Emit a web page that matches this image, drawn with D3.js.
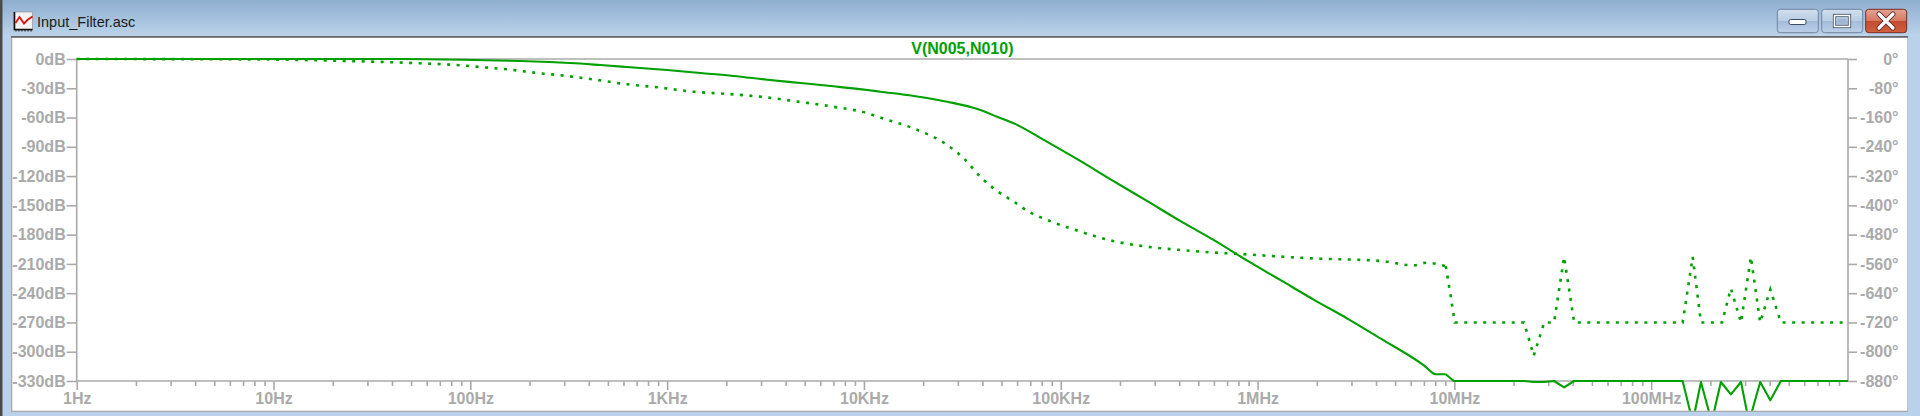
<!DOCTYPE html>
<html><head><meta charset="utf-8">
<script src="https://cdn.jsdelivr.net/npm/d3@7"></script>
<style>
html,body{margin:0;padding:0;background:#fff;overflow:hidden;}
svg{display:block;}
</style></head>
<body>
<svg id="c" width="1920" height="416"></svg>
<script>
// ---- data ----
const windowTitle = "Input_Filter.asc";
const traceName = "V(N005,N010)";
const magFreq = [1,44,91,180,252,322,458,651,1000,1480,2170,3230,4760,7000,10400,12110,17920,26480,39080,47540,57770,85390,126200,186400,275400,406400,600100,887000,1.31e6,1.936e6,2.86e6,4.23e6,7.0e6,8.05e6,9.04e6,9.94e6,2.26e7,2.53e7,2.86e7,3.21e7,3.61e7,4.06e7,1.445e8,1.625e8,1.79e8,2.03e8,2.26e8,2.54e8,2.86e8,3.14e8,3.58e8,4.03e8,4.56e8,1e9];
const magDb = [0,0,-0.7,-2.1,-3.1,-4.1,-6.2,-8.5,-11.3,-14.4,-17.4,-21.2,-24.6,-28.0,-31.8,-33.5,-37.9,-43.8,-52.3,-59.2,-66.0,-84.9,-104.7,-125.4,-145.7,-166.2,-185.7,-206.7,-226.7,-246.8,-266.0,-286.6,-313.9,-323.1,-323.1,-330,-330,-331,-331,-330,-336.5,-330,-330,-372,-331,-372,-331,-343.7,-331,-372,-331,-349.8,-330,-330];
const phaseFreq = [1,7.6,21,39,55.6,88.8,112,154,219,311,442,628,892,1360,2170,3080,4390,7000,10400,12110,17920,26480,32200,39080,47540,57770,70200,85390,126200,186400,275400,406400,600100,887000,1.31e6,1.936e6,4.23e6,6.22e6,7.16e6,9.04e6,9.15e6,9.59e6,1.005e7,2.26e7,2.53e7,2.86e7,3.21e7,3.61e7,4.06e7,1.445e8,1.625e8,1.79e8,2.29e8,2.54e8,2.86e8,3.21e8,3.58e8,4.03e8,4.56e8,1e9];
const phaseDeg = [0,-1,-4.7,-8.8,-11.8,-17.2,-21.9,-28.2,-38.3,-46.5,-57.4,-69.2,-77.4,-89.4,-96.6,-103.9,-114.9,-130.5,-148,-160,-190,-235,-272,-322,-361,-390,-420,-440,-472,-498,-513,-522,-529,-534,-540,-545,-552,-564,-557,-566,-582,-650,-720,-720,-811,-720,-720,-541,-720,-720,-541,-720,-720,-627,-720,-541,-720,-630,-720,-720];
const xTickValues = [1,10,100,1e3,1e4,1e5,1e6,1e7,1e8];
const xTickLabels = ["1Hz","10Hz","100Hz","1KHz","10KHz","100KHz","1MHz","10MHz","100MHz"];
const dbTicks = [0,-30,-60,-90,-120,-150,-180,-210,-240,-270,-300,-330];
const degTicks = [0,-80,-160,-240,-320,-400,-480,-560,-640,-720,-800,-880];

// ---- layout ----
const svg = d3.select("#c");
const L = 76.7, R = 1848, T = 59, B = 381;
const green = "#00a000", grey = "#aaaaaa";
const x = d3.scaleLog().domain([1,1e9]).range([L,R]);
const yMag = d3.scaleLinear().domain([0,-330]).range([T,B]);
const yPh = d3.scaleLinear().domain([0,-880]).range([T,B]);

// ---- window chrome ----
const defs = svg.append("defs");
const tg = defs.append("linearGradient").attr("id","tb").attr("x1",0).attr("y1",0).attr("x2",0).attr("y2",1);
tg.append("stop").attr("offset","0%").attr("stop-color","#8eaecf");
tg.append("stop").attr("offset","100%").attr("stop-color","#bcd4eb");
svg.append("rect").attr("width",1920).attr("height",416).attr("fill","#b9d1ea");
svg.append("rect").attr("width",1920).attr("height",37).attr("fill","url(#tb)");
svg.append("rect").attr("x",0).attr("y",0).attr("width",2.5).attr("height",416).attr("fill","#4a4a4a");
svg.append("rect").attr("x",11).attr("y",36).attr("width",1897).attr("height",376).attr("fill","#a9a9a9");
svg.append("rect").attr("x",12.3).attr("y",37.7).attr("width",1895).attr("height",373).attr("fill","#ffffff");
svg.append("rect").attr("x",11).attr("y",36).attr("width",1897).attr("height",1.7).attr("fill","#6a6a6a");

// window icon
const ic = svg.append("g");
ic.append("rect").attr("x",13.5).attr("y",12).attr("width",19).attr("height",18).attr("fill","#f4f4f4").attr("stroke","#888").attr("stroke-width",0.6);
ic.append("path").attr("d","M14.5,12 V29.5 H32.5").attr("fill","none").attr("stroke","#111").attr("stroke-width",1.6);
for(let i=0;i<6;i++) ic.append("line").attr("x1",16+i*3).attr("x2",16+i*3).attr("y1",29.5).attr("y2",31.5).attr("stroke","#111").attr("stroke-width",1);
ic.append("path").attr("d","M15.5,23 L19.5,17 L24,23.5 L28,19.5 L32.5,16.5").attr("fill","none").attr("stroke","#e01010").attr("stroke-width",1.8);
svg.append("text").attr("x",37).attr("y",27).attr("font-family","Liberation Sans, Arial, sans-serif").attr("font-size",14.5).attr("fill","#1a1a1a").text(windowTitle);

// caption buttons
const bg = defs.append("linearGradient").attr("id","btn").attr("x1",0).attr("y1",0).attr("x2",0).attr("y2",1);
bg.append("stop").attr("offset","0%").attr("stop-color","#d2e0ef");
bg.append("stop").attr("offset","48%").attr("stop-color","#b9cde4");
bg.append("stop").attr("offset","52%").attr("stop-color","#a5bcd9");
bg.append("stop").attr("offset","100%").attr("stop-color","#bcd0e8");
const cg = defs.append("linearGradient").attr("id","cls").attr("x1",0).attr("y1",0).attr("x2",0).attr("y2",1);
cg.append("stop").attr("offset","0%").attr("stop-color","#e6a595");
cg.append("stop").attr("offset","48%").attr("stop-color","#d47a63");
cg.append("stop").attr("offset","52%").attr("stop-color","#c24a30");
cg.append("stop").attr("offset","100%").attr("stop-color","#d1623f");
[[1777.3,"url(#btn)","#6f82a0"],[1821.7,"url(#btn)","#6f82a0"],[1865.7,"url(#cls)","#7b2a22"]].forEach(b=>{
  svg.append("rect").attr("x",b[0]).attr("y",9.3).attr("width",41).attr("height",23.4).attr("rx",3).attr("fill",b[1]).attr("stroke",b[2]).attr("stroke-width",1);
});
svg.append("rect").attr("x",1789).attr("y",19.5).attr("width",17).attr("height",5).attr("rx",1.5).attr("fill","#fff").attr("stroke","#3b4a62").attr("stroke-width",1);
svg.append("rect").attr("x",1834.5).attr("y",15.5).attr("width",15).attr("height",11).attr("fill","none").attr("stroke","#3b4a62").attr("stroke-width",3.2);
svg.append("rect").attr("x",1834.5).attr("y",15.5).attr("width",15).attr("height",11).attr("fill","none").attr("stroke","#fff").attr("stroke-width",1.6);
svg.append("rect").attr("x",1837.5).attr("y",18.5).attr("width",9).attr("height",5).attr("fill","#9fb6d4");
svg.append("path").attr("d","M1879,14 L1893,28 M1893,14 L1879,28").attr("stroke","#5a2a25").attr("stroke-width",5.2).attr("stroke-linecap","round");
svg.append("path").attr("d","M1879,14 L1893,28 M1893,14 L1879,28").attr("stroke","#fff").attr("stroke-width",3.2).attr("stroke-linecap","round");

// ---- axes ----
const font = "Liberation Sans, Arial, sans-serif";
const frame = svg.append("g").attr("stroke",grey).attr("stroke-width",1.6).attr("fill","none");
frame.append("line").attr("x1",L).attr("x2",R).attr("y1",T).attr("y2",T);
frame.append("line").attr("x1",L).attr("x2",R).attr("y1",B).attr("y2",B);
frame.append("line").attr("x1",L).attr("x2",L).attr("y1",T).attr("y2",B);
frame.append("line").attr("x1",R).attr("x2",R).attr("y1",T).attr("y2",B);

function styleAxis(g){
  g.select(".domain").remove();
  g.selectAll(".tick line").attr("stroke",grey).attr("stroke-width",1.6);
  g.selectAll(".tick text").attr("fill",grey).attr("font-family",font).attr("font-weight","bold").attr("font-size",16);
}
svg.append("g").attr("transform",`translate(${L},0)`)
  .call(d3.axisLeft(yMag).tickValues(dbTicks).tickSize(10).tickPadding(1).tickFormat(d=>d+"dB"))
  .call(styleAxis);
const ra = svg.append("g").attr("transform",`translate(${R},0)`)
  .call(d3.axisRight(yPh).tickValues(degTicks).tickSize(9).tickPadding(1).tickFormat(d=>d+"°"))
  .call(styleAxis);
ra.selectAll(".tick text").attr("text-anchor","end").attr("x",50.5);

svg.append("g").attr("transform",`translate(0,${B})`)
  .call(d3.axisBottom(x).tickValues(xTickValues).tickSize(9).tickPadding(3).tickFormat((d,i)=>xTickLabels[i]))
  .call(styleAxis);
const minor = [];
xTickValues.forEach(d=>{ for(let k=2;k<=9;k++) minor.push(d*k); });
svg.append("g").attr("transform",`translate(0,${B})`)
  .call(d3.axisBottom(x).tickValues(minor).tickSize(5).tickFormat(""))
  .call(styleAxis);

// ---- title ----
svg.append("text").attr("x",(L+R)/2).attr("y",53.5).attr("text-anchor","middle")
  .attr("font-family",font).attr("font-weight","bold").attr("font-size",16).attr("fill",green).text(traceName);

// ---- traces ----
defs.append("clipPath").attr("id","clip").append("rect").attr("x",12.3).attr("y",37.7).attr("width",1895).attr("height",373);
const plot = svg.append("g").attr("clip-path","url(#clip)");
const SPLIT = 9.04e6; // smooth response below, raw numerical noise above
const magPts = magFreq.map((f,i)=>[f,magDb[i]]);
const phPts = phaseFreq.map((f,i)=>[f,phaseDeg[i]]);
const smoothMag = d3.line().curve(d3.curveMonotoneX).x(d=>x(d[0])).y(d=>yMag(d[1]));
const rawMag = d3.line().x(d=>x(d[0])).y(d=>yMag(d[1]));
const smoothPh = d3.line().curve(d3.curveMonotoneX).x(d=>x(d[0])).y(d=>yPh(d[1]));
const rawPh = d3.line().x(d=>x(d[0])).y(d=>yPh(d[1]));
const phStyle = p => p.attr("fill","none").attr("stroke",green).attr("stroke-width",2.6).attr("stroke-dasharray","3,6.5");
plot.append("path").datum(phPts.filter(d=>d[0]<=SPLIT)).attr("d",smoothPh).call(phStyle);
plot.append("path").datum(phPts.filter(d=>d[0]>=SPLIT)).attr("d",rawPh).call(phStyle);
const magStyle = p => p.attr("fill","none").attr("stroke",green).attr("stroke-width",2.1).attr("stroke-linejoin","round");
plot.append("path").datum(magPts.filter(d=>d[0]<=SPLIT)).attr("d",smoothMag).call(magStyle);
plot.append("path").datum(magPts.filter(d=>d[0]>=SPLIT)).attr("d",rawMag).call(magStyle);
</script>
</body></html>
